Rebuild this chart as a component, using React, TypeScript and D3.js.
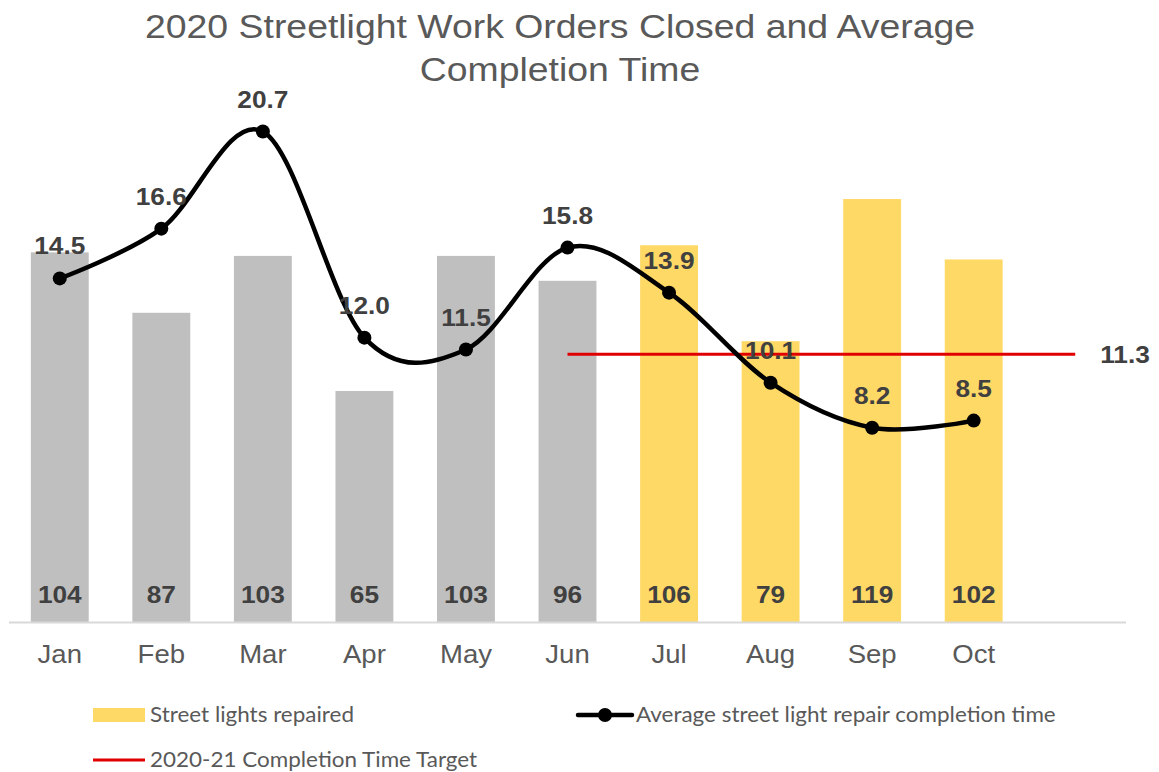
import React from "react";
import * as d3 from "d3";

const months = ["Jan", "Feb", "Mar", "Apr", "May", "Jun", "Jul", "Aug", "Sep", "Oct"];
const slots = [...months, ""];
const repaired = [104, 87, 103, 65, 103, 96, 106, 79, 119, 102];
const isCurrent = [false, false, false, false, false, false, true, true, true, true];
const avgTime = [14.5, 16.6, 20.7, 12.0, 11.5, 15.8, 13.9, 10.1, 8.2, 8.5];
const targetValue = 11.3;
const targetStart = "Jun";
const targetEnd = "";
const titleLines = ["2020 Streetlight Work Orders Closed and Average", "Completion Time"];
const legendLabels = ["Street lights repaired", "Average street light repair completion time", "2020-21 Completion Time Target"];

const W = 1159;
const H = 772;
const AX = "'Liberation Sans', Arial, sans-serif";
const LEG = "Lato, 'Open Sans', sans-serif";
const S = 1.08;

function T(props: {
  x: number;
  y: number;
  s?: number;
  anchor?: string;
  family: string;
  size: number;
  bold?: boolean;
  fill: string;
  children: React.ReactNode;
}) {
  const { x, y, s = S, anchor = "middle", family, size, bold, fill, children } = props;
  return (
    <text
      transform={`translate(${x},${y}) scale(${s},1)`}
      textAnchor={anchor}
      fontFamily={family}
      fontSize={size}
      fontWeight={bold ? "bold" : "normal"}
      fill={fill}
    >
      {children}
    </text>
  );
}

export default function App() {
  const key = (s: string, i: number) => s || `slot${i}`;
  const x = d3
    .scaleBand<string>()
    .domain(slots.map(key))
    .range([9, 1126])
    .paddingInner(0.43)
    .paddingOuter(0.215);
  const cx = (i: number) => (x(key(slots[i], i)) as number) + x.bandwidth() / 2;
  const yBar = d3.scaleLinear().domain([0, 175]).range([622, 0]);
  const yLine = d3.scaleLinear().domain([0, 26.25]).range([622, 0]);

  const linePath = d3
    .line<number>()
    .x((_, i) => cx(i))
    .y((d) => yLine(d))
    .curve(d3.curveCatmullRom.alpha(0))(avgTime) as string;

  const tStart = cx(months.indexOf(targetStart));
  const tEnd = cx(slots.indexOf(targetEnd));

  return (
    <svg width={W} height={H} style={{ position: "absolute", left: 0, top: 0 }}>
      <rect width={W} height={H} fill="#fff" />
      <T x={560} y={38} family={AX} size={34} fill="#595959" s={1.1}>
        {titleLines[0]}
      </T>
      <T x={560} y={81} family={AX} size={34} fill="#595959" s={1.1}>
        {titleLines[1]}
      </T>

      {repaired.map((v, i) => (
        <rect
          key={i}
          x={x(key(slots[i], i))}
          y={yBar(v)}
          width={x.bandwidth()}
          height={yBar(0) - yBar(v)}
          fill={isCurrent[i] ? "#ffd966" : "#bfbfbf"}
        />
      ))}
      {repaired.map((v, i) => (
        <T key={i} x={cx(i)} y={603} family={AX} bold size={24.3} fill="#404040">
          {v}
        </T>
      ))}

      <line x1={9} x2={1126} y1={622.5} y2={622.5} stroke="#d9d9d9" strokeWidth={2} />
      {months.map((m, i) => (
        <T key={m} x={cx(i)} y={663} family={AX} size={25.5} fill="#595959">
          {m}
        </T>
      ))}

      <line x1={tStart} x2={tEnd} y1={yLine(targetValue)} y2={yLine(targetValue)} stroke="#e00000" strokeWidth={3} />
      <T x={1125} y={yLine(targetValue) + 9} family={AX} bold size={24.3} fill="#404040">
        {targetValue.toFixed(1)}
      </T>

      <path d={linePath} fill="none" stroke="#000" strokeWidth={4.5} />
      {avgTime.map((v, i) => (
        <circle key={i} cx={cx(i)} cy={yLine(v)} r={7} fill="#000" />
      ))}
      {avgTime.map((v, i) => (
        <T key={i} x={cx(i)} y={yLine(v) - 24} family={AX} bold size={24.3} fill="#404040">
          {v.toFixed(1)}
        </T>
      ))}

      {/* legend */}
      <rect x={93} y={708} width={52} height={14} fill="#ffd966" />
      <T x={150} y={722} anchor="start" family={LEG} size={21} s={1.07} fill="#595959">
        {legendLabels[0]}
      </T>
      <line x1={578} x2={632} y1={715} y2={715} stroke="#000" strokeWidth={4.5} strokeLinecap="round" />
      <circle cx={605} cy={715} r={7} fill="#000" />
      <T x={636} y={722} anchor="start" family={LEG} size={21} s={1.07} fill="#595959">
        {legendLabels[1]}
      </T>
      <line x1={93} x2={145} y1={760} y2={760} stroke="#e00000" strokeWidth={3} />
      <T x={150} y={767} anchor="start" family={LEG} size={21} s={1.07} fill="#595959">
        {legendLabels[2]}
      </T>
    </svg>
  );
}
